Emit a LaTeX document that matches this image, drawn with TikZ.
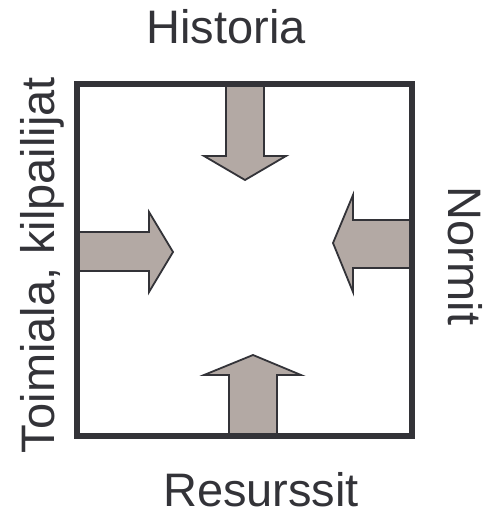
\documentclass[tikz,border=0pt]{standalone}
\usepackage{fontspec}
\setmainfont{Liberation Sans}
\definecolor{arrowfill}{HTML}{B3A9A4}
\definecolor{darkline}{HTML}{333338}
\begin{document}
\begin{tikzpicture}[x=1pt,y=-1pt,
  lbl/.style={font=\fontsize{47}{56}\selectfont, text=darkline, inner sep=0pt, anchor=base},
  bigarrow/.style={fill=arrowfill, draw=darkline, line width=1.8pt, line join=miter},
  frame/.style={draw=darkline, line width=5.5pt}]
\useasboundingbox (0,0) rectangle (491,516);
% arrows
\draw[bigarrow] (226,84) -- (226,156) -- (204,156) -- (245,180) -- (286,156) -- (264,156) -- (264,84);
\draw[bigarrow] (77,232) -- (149,232) -- (149,212) -- (173,252) -- (149,292) -- (149,271) -- (77,271);
\draw[bigarrow] (412,220) -- (353,220) -- (353,195) -- (333,243) -- (353,292) -- (353,268) -- (412,268);
\draw[bigarrow] (229,436) -- (229,375) -- (204,375) -- (253,355) -- (301,375) -- (277,375) -- (277,436);
% frame
\draw[frame] (77,84) rectangle (412,436);
% labels
\node[lbl] (hist) at (226,44) {Historia};
\node[lbl] (res) at (261,506) {Resurssit};
\node[lbl, rotate=90] (toim) at (54,265) {Toimiala, kilpailijat};
\node[lbl, rotate=-90] (norm) at (448,256) {Normit};
\end{tikzpicture}
\end{document}
